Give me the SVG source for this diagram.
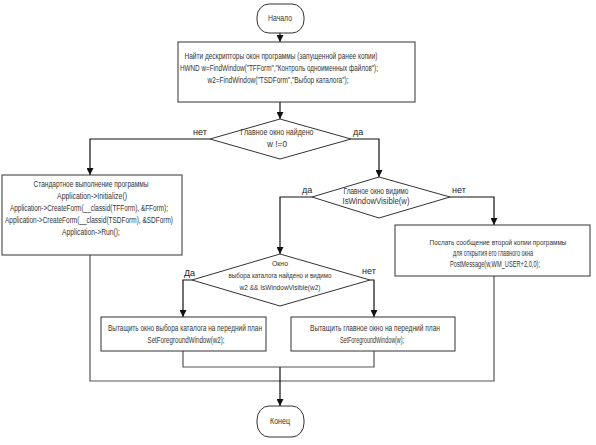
<svg xmlns="http://www.w3.org/2000/svg" width="596" height="445" viewBox="0 0 596 445">
<defs>
<style>
.box{fill:#fff;stroke:#333;stroke-width:1}
.t{font-family:"Liberation Sans",Arial,sans-serif;font-size:8.5px;fill:#333;text-anchor:middle}
.s{font-size:7.5px}
.lbl{font-family:"Liberation Sans",Arial,sans-serif;font-size:9px;fill:#222}
.c{fill:none;stroke:#111;stroke-width:1.2}
.g{fill:none;stroke:#555;stroke-width:1.2}
</style>
<marker id="ah" viewBox="0 0 8 8" refX="8" refY="4" markerWidth="7" markerHeight="7" markerUnits="userSpaceOnUse" orient="auto">
<path d="M0,0 L8,4 L0,8 z" fill="#111"/>
</marker>
</defs>
<rect width="596" height="445" fill="#fff"/>
<g id="connectors">
<path class="c" d="M280,33 V42" marker-end="url(#ah)"/>
<path class="c" d="M280,102 V119" marker-end="url(#ah)"/>
<path class="c" d="M210,139 H90 V175" marker-end="url(#ah)"/>
<path class="c" d="M351,139 H379 V177" marker-end="url(#ah)"/>
<path class="c" d="M312,197 H280 V254" marker-end="url(#ah)"/>
<path class="c" d="M450,197 H494 V225" marker-end="url(#ah)"/>
<path class="c" d="M192,280 H183 V317" marker-end="url(#ah)"/>
<path class="c" d="M370,280 H374 V317" marker-end="url(#ah)"/>
<path class="g" d="M183,351 V367 H374 V351"/>
<path class="g" d="M90,255 V381 H494 V276"/>
<path class="c" d="M280,367 V406" marker-end="url(#ah)"/>
<text class="lbl" x="193" y="135">нет</text>
<text class="lbl" x="353" y="135">да</text>
<text class="lbl" x="302" y="193">да</text>
<text class="lbl" x="452" y="193">нет</text>
<text class="lbl" x="184" y="276">Да</text>
<text class="lbl" x="362" y="274">нет</text>
</g>
<g id="start">
<rect class="box" x="257" y="4" width="47" height="29" rx="12" ry="13"/>
<text class="t" x="280" y="21" textLength="24" lengthAdjust="spacingAndGlyphs">Начало</text>
</g>
<g id="find">
<rect class="box" x="178" y="42" width="237" height="60"/>
<text class="t" x="281" y="59" textLength="193" lengthAdjust="spacingAndGlyphs">Найти дескрипторы окон программы (запущенной ранее копии)</text>
<text class="t" x="279" y="71" textLength="198" lengthAdjust="spacingAndGlyphs">HWND w=FindWindow("TFForm","Контроль одноименных файлов");</text>
<text class="t" x="278" y="83" textLength="141" lengthAdjust="spacingAndGlyphs">w2=FindWindow("TSDForm","Выбор каталога");</text>
</g>
<g id="dec1">
<polygon class="box" points="280,119 351,139 280,159 210,139"/>
<text class="t" x="277" y="135" textLength="73" lengthAdjust="spacingAndGlyphs">Главное окно найдено</text>
<text class="t" x="277" y="147" textLength="20" lengthAdjust="spacingAndGlyphs">w !=0</text>
</g>
<g id="standard">
<rect class="box" x="2" y="175" width="180" height="80"/>
<text class="t" x="91" y="187" textLength="115" lengthAdjust="spacingAndGlyphs">Стандартное выполнение программы</text>
<text class="t" x="92" y="199" textLength="70" lengthAdjust="spacingAndGlyphs">Application-&gt;Initialize()</text>
<text class="t" x="89" y="211" textLength="158" lengthAdjust="spacingAndGlyphs">Application-&gt;CreateForm(__classid(TFForm), &amp;FForm);</text>
<text class="t" x="89" y="223" textLength="168" lengthAdjust="spacingAndGlyphs">Application-&gt;CreateForm(__classid(TSDForm), &amp;SDForm)</text>
<text class="t" x="91" y="235" textLength="58" lengthAdjust="spacingAndGlyphs">Application-&gt;Run();</text>
</g>
<g id="dec2">
<polygon class="box" points="379,177 450,197 379,218 312,197"/>
<text class="t" x="376" y="194" textLength="65" lengthAdjust="spacingAndGlyphs">Главное окно видимо</text>
<text class="t" x="376" y="204" textLength="67" lengthAdjust="spacingAndGlyphs">IsWindowVisible(w)</text>
</g>
<g id="post">
<rect class="box" x="395" y="225" width="195" height="51"/>
<text class="t s" x="498" y="245" textLength="137" lengthAdjust="spacingAndGlyphs">Послать сообщение второй копии программы</text>
<text class="t" x="493" y="256" textLength="80" lengthAdjust="spacingAndGlyphs">для открытия его главного окна</text>
<text class="t" x="495" y="267" textLength="90" lengthAdjust="spacingAndGlyphs">PostMessage(w,WM_USER+2,0,0);</text>
</g>
<g id="dec3">
<polygon class="box" points="280,254 370,280 280,306 192,280"/>
<text class="t s" x="280" y="266" textLength="16" lengthAdjust="spacingAndGlyphs">Окно</text>
<text class="t s" x="280" y="278" textLength="103" lengthAdjust="spacingAndGlyphs">выбора каталога найдено и видимо</text>
<text class="t s" x="280" y="290" textLength="81" lengthAdjust="spacingAndGlyphs">w2 &amp;&amp; IsWindowVisible(w2)</text>
</g>
<g id="front2">
<rect class="box" x="101" y="317" width="165" height="34"/>
<text class="t" x="185" y="331" textLength="154" lengthAdjust="spacingAndGlyphs">Вытащить окно выбора каталога на передний план</text>
<text class="t" x="186" y="343" textLength="77" lengthAdjust="spacingAndGlyphs">SetForegroundWindow(w2);</text>
</g>
<g id="front1">
<rect class="box" x="291" y="317" width="164" height="34"/>
<text class="t" x="375" y="331" textLength="130" lengthAdjust="spacingAndGlyphs">Вытащить главное окно на передний план</text>
<text class="t" x="372" y="343" textLength="64" lengthAdjust="spacingAndGlyphs">SetForegroundWindow(w);</text>
</g>
<g id="end">
<rect class="box" x="257" y="406" width="47" height="31" rx="12" ry="14"/>
<text class="t" x="280" y="424" textLength="20" lengthAdjust="spacingAndGlyphs">Конец</text>
</g>
</svg>
